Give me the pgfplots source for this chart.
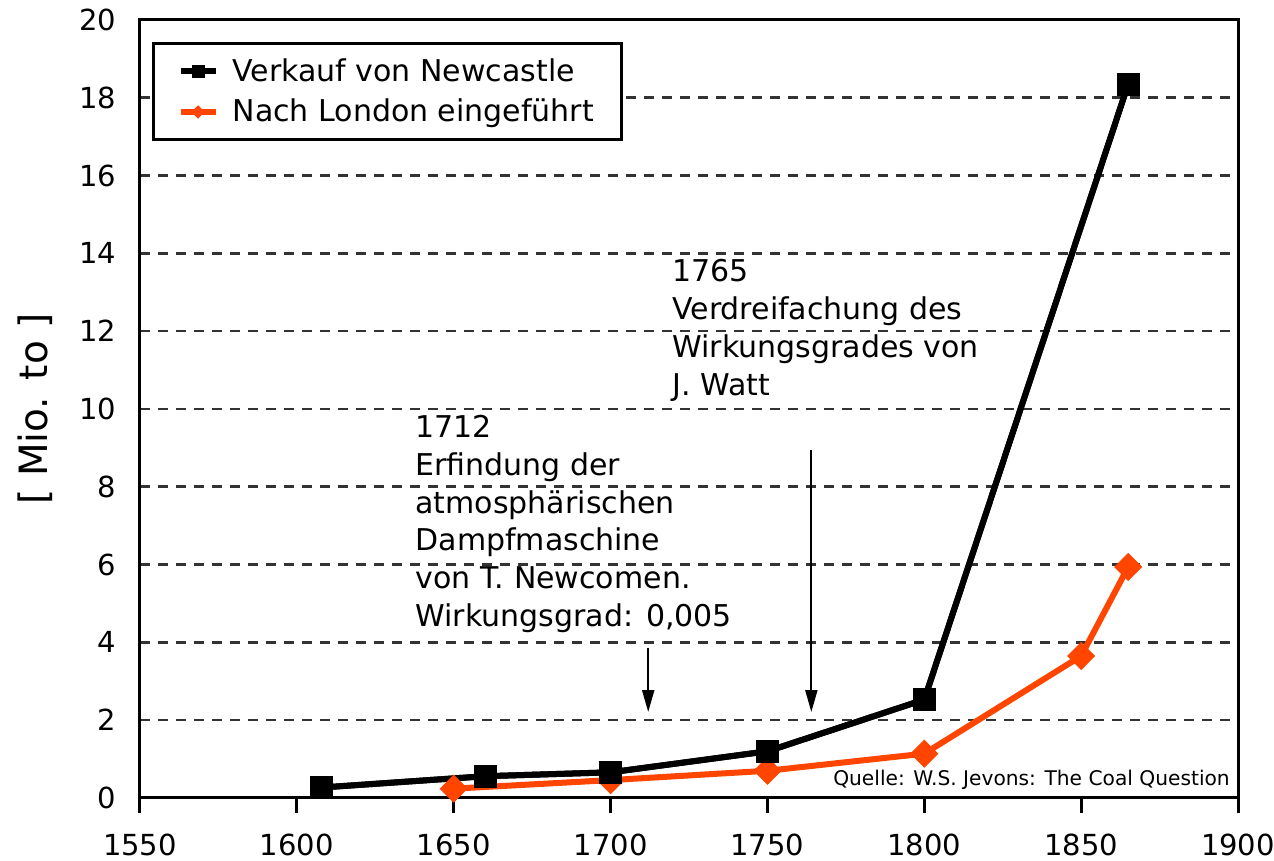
\documentclass[border=0pt]{standalone}
\usepackage{fontspec}
\setmainfont{DejaVu Sans}
\usepackage{pgfplots}
\pgfplotsset{compat=1.18}
\usetikzlibrary{arrows.meta}
\definecolor{londonred}{RGB}{255,69,0}
\definecolor{gridgray}{gray}{0.2}
\begin{document}
\begin{tikzpicture}
\useasboundingbox (-70pt,-31.5pt) rectangle (567pt,399pt);
\begin{axis}[
  scale only axis, width=549pt, height=389pt,
  xmin=1550, xmax=1900, ymin=0, ymax=20,
  xtick={1550,1600,...,1900}, ytick={0,2,...,20},
  axis line style={line width=1.5pt},
  tick align=outside, major tick length=7.5pt,
  xtick pos=bottom, ytick pos=left,
  tick style={line width=1.5pt, black},
  ytick style={draw=none},
  ymajorgrids,
  grid style={dash pattern=on 5pt off 4pt, line width=1.3pt, gridgray},
  ticklabel style={font=\fontsize{14.5}{17}\selectfont},
  xticklabel style={yshift=-7pt},
  yticklabel style={xshift=-1pt},
  /pgf/number format/assume math mode=true,
  /pgf/number format/1000 sep={},
  ylabel={{[} Mio. to {]}},
  ylabel style={font=\fontsize{19.5}{23}\selectfont, at={(axis description cs:-0.0956,0.5)}, anchor=center},
  legend style={at={(axis description cs:0.011,0.972)}, anchor=north west, draw=black, line width=1.5pt, fill=white,
    font=\fontsize{15}{18}\selectfont, inner xsep=12pt, inner ysep=5.5pt, row sep=3.5pt,
    /tikz/every odd column/.append style={column sep=5pt}},
  legend cell align=left,
  legend image code/.code={\draw[mark repeat=2,mark phase=2,#1,mark size=3pt] plot coordinates {(0pt,0pt) (8.75pt,0pt) (17.5pt,0pt)};},
  clip=false,
]
\addplot[black, line width=3pt, mark=square*, mark size=5.5pt, mark options={solid, line width=0.5pt}]
  coordinates {(1608,0.27) (1660,0.56) (1700,0.66) (1750,1.2) (1800,2.53) (1865,18.35)};
\addlegendentry{Verkauf von Newcastle}
\addplot[londonred, line width=3pt, mark=diamond*, mark size=6.7pt, mark options={solid, line width=0.5pt, xscale=1.33}]
  coordinates {(1650,0.24) (1700,0.46) (1750,0.7) (1800,1.14) (1850,3.65) (1865,5.94)};
\addlegendentry{Nach London eingeführt}
\addplot[forget plot, black, line width=3pt, mark=square*, mark size=5.5pt, mark options={solid, line width=0.5pt}]
  coordinates {(1608,0.27) (1660,0.56) (1700,0.66) (1750,1.2) (1800,2.53) (1865,18.35)};
\node[anchor=north west, align=left, inner sep=0pt, font=\fontsize{15}{18.9}\selectfont] at (axis cs:1637.7,9.85)
  {1712\\Erfindung der\\atmosphärischen\\Dampfmaschine\\von T. Newcomen.\\Wirkungsgrad: 0,005};
\node[anchor=north west, align=left, inner sep=0pt, font=\fontsize{15}{18.9}\selectfont] at (axis cs:1719.6,13.85)
  {1765\\Verdreifachung des\\Wirkungsgrades von\\J. Watt};
\draw[-{Triangle[length=11pt,width=6pt]}, line width=1pt] (axis cs:1712,3.86) -- (axis cs:1712,2.21);
\draw[-{Triangle[length=11pt,width=6pt]}, line width=1pt] (axis cs:1764,8.95) -- (axis cs:1764,2.21);
\node[anchor=base east, inner sep=0pt, font=\fontsize{10.1}{12}\selectfont] at (axis cs:1897.5,0.33)
  {Quelle: W.S. Jevons: The Coal Question};
\end{axis}
\end{tikzpicture}
\end{document}
